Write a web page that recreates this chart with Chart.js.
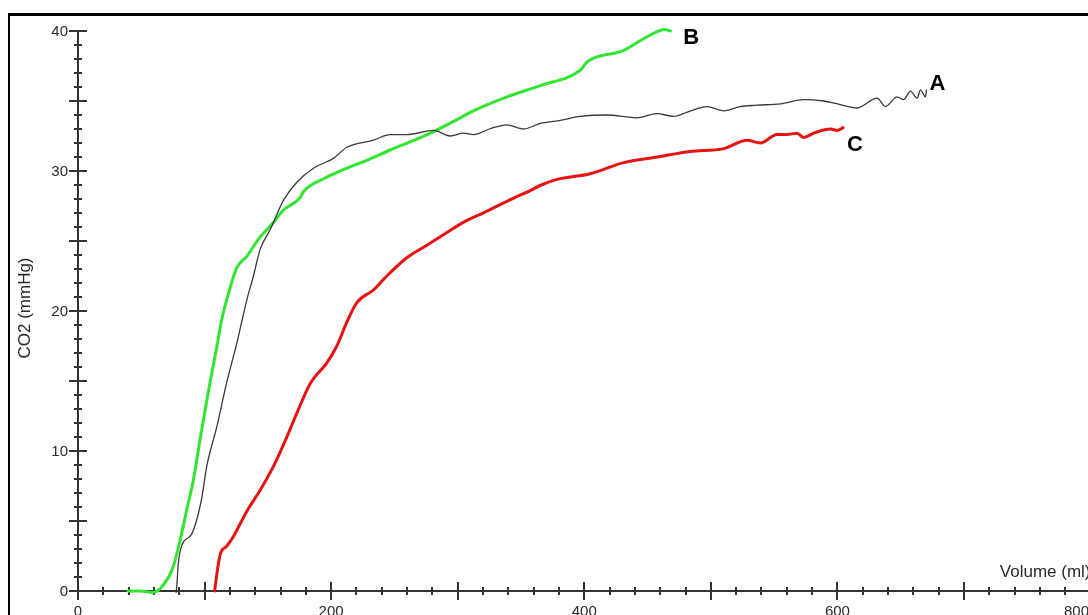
<!DOCTYPE html>
<html>
<head>
<meta charset="utf-8">
<script src="https://cdn.jsdelivr.net/npm/chart.js@4.4.1/dist/chart.umd.min.js"></script>
<style>
  html, body { margin: 0; padding: 0; background: #fff; overflow: hidden; }
  canvas { display: block; }
</style>
</head>
<body>
<canvas id="c" width="1088" height="615"></canvas>
<script>
// ---- data ----
const seriesNames = ['A', 'B', 'C'];

const volA = [77.5, 78, 79.3, 82.2, 90, 97.5, 101.7, 109.6, 117.5, 125.5, 133.4, 138.6, 143.9, 151.8, 162.3, 172.9, 186, 201.8, 212.4, 233.4, 246.6, 259.8, 280.9, 294.1, 304.6, 312.5, 325, 338.9, 352, 365.2, 380, 396.8, 417.9, 441.7, 457.5, 470.6, 484, 497, 510.1, 523, 536.5, 555, 573.4, 589.2, 600, 615.6, 631.4, 638, 647.2, 652.4, 657.7, 663, 665.6, 669.6, 670.4];
const co2A = [-0.1, 0.3, 2.0, 3.3, 4.1, 6.5, 8.9, 11.7, 14.9, 17.7, 20.8, 22.5, 24.4, 25.8, 27.9, 29.2, 30.2, 30.9, 31.7, 32.2, 32.6, 32.6, 32.9, 32.5, 32.7, 32.6, 33.0, 33.3, 33.0, 33.4, 33.6, 33.9, 34.0, 33.8, 34.1, 33.9, 34.3, 34.6, 34.3, 34.6, 34.7, 34.8, 35.1, 35.0, 34.8, 34.5, 35.2, 34.6, 35.3, 35.1, 35.7, 35.2, 35.8, 35.3, 35.8];

const volB = [39.5, 49, 59.3, 67.2, 75.1, 80.6, 85.9, 91.1, 96.4, 100.4, 104.3, 109.6, 113.6, 117.5, 125.5, 133.4, 142.3, 154.2, 162.1, 175.5, 177.9, 195.3, 215, 229.2, 246.6, 263, 280.6, 298, 312.3, 339.1, 365.2, 396.8, 402.4, 430.8, 449.8, 464, 468];
const co2B = [0, 0, -0.1, 0.4, 1.7, 3.6, 5.8, 7.9, 10.8, 12.9, 14.9, 17.4, 19.4, 20.8, 23.1, 23.9, 25.1, 26.3, 27.2, 28.1, 28.5, 29.5, 30.3, 30.8, 31.5, 32.1, 32.8, 33.6, 34.3, 35.3, 36.1, 37.2, 37.8, 38.6, 39.6, 40.1, 40.0];

const volC = [108, 109.1, 112.3, 117.5, 122.8, 133.4, 143.9, 154.4, 165, 172.9, 183.4, 196.6, 204.5, 212.4, 220.3, 233.4, 244, 259.8, 275.7, 286.2, 305.9, 317.8, 333.6, 345, 357.3, 366, 378.4, 404.7, 431.1, 457.5, 483.8, 510.1, 528.6, 539.1, 552.3, 560.2, 568.1, 573.4, 581.3, 594.5, 599.8, 604.5];
const co2C = [0, 0.8, 2.6, 3.2, 3.9, 5.7, 7.2, 8.9, 11.0, 12.7, 14.8, 16.3, 17.5, 19.2, 20.6, 21.5, 22.5, 23.8, 24.7, 25.3, 26.4, 26.9, 27.6, 28.1, 28.6, 29.0, 29.4, 29.8, 30.6, 31.0, 31.4, 31.6, 32.2, 32.0, 32.6, 32.6, 32.7, 32.4, 32.7, 33.0, 32.9, 33.1];

const xTickLabels = [0, 200, 400, 600, 800];
const yTickLabels = [0, 10, 20, 30, 40];
const xTitle = 'Volume (ml)';
const yTitle = 'CO2 (mmHg)';

// ---- styles ----
const colors = { A: '#3a3a3a', B: '#33e533', C: '#e81212' };
const widths = { A: 1.3, B: 3, C: 3 };
const labelOffset = { A: [3, 0], B: [13, 13], C: [4, 23] };
const AX = '#333333';
const TXT = '#2a2a2a';

function pts(xs, ys) { return xs.map((v, i) => ({ x: v, y: ys[i] })); }
const seriesData = { A: pts(volA, co2A), B: pts(volB, co2B), C: pts(volC, co2C) };

const axesPlugin = {
  id: 'axesPlugin',
  beforeDatasetsDraw(chart) {
    const { ctx, scales: { x, y } } = chart;
    const x0 = Math.round(x.getPixelForValue(0));
    const y0 = Math.round(y.getPixelForValue(0));
    const yTop = Math.round(y.getPixelForValue(40));
    ctx.save();
    ctx.strokeStyle = AX;
    ctx.lineWidth = 2;
    ctx.beginPath();
    ctx.moveTo(x0 - 9, y0); ctx.lineTo(chart.width, y0);
    ctx.moveTo(x0, yTop); ctx.lineTo(x0, y0);
    for (let v = 0; v <= 800; v += 20) {
      const px = Math.round(x.getPixelForValue(v));
      const len = v % 100 === 0 ? 9 : 4;
      ctx.moveTo(px, y0 - len); ctx.lineTo(px, y0 + len);
    }
    for (let v = 0; v <= 40; v += 1) {
      const py = Math.round(y.getPixelForValue(v));
      const len = v % 5 === 0 ? 9 : 4;
      ctx.moveTo(x0 - len, py); ctx.lineTo(x0 + len, py);
    }
    ctx.stroke();

    // tick labels
    ctx.fillStyle = TXT;
    ctx.font = '15px "Liberation Sans", Arial, sans-serif';
    ctx.textAlign = 'right';
    ctx.textBaseline = 'middle';
    yTickLabels.forEach(v => {
      ctx.fillText(String(v), x0 - 10, y.getPixelForValue(v) + 1);
    });
    ctx.textBaseline = 'top';
    xTickLabels.forEach(v => {
      const s = String(v);
      const w = ctx.measureText(s).width;
      let cx = x.getPixelForValue(v);
      if (cx + w / 2 > chart.width + 1) cx = chart.width + 1 - w / 2;
      ctx.textAlign = 'center';
      ctx.fillText(s, cx, y0 + 13);
    });

    // axis titles
    ctx.font = '17px "Liberation Sans", Arial, sans-serif';
    ctx.textAlign = 'right';
    ctx.textBaseline = 'alphabetic';
    ctx.fillText(xTitle, x.getPixelForValue(800), y0 - 14);
    ctx.save();
    ctx.translate(30, (yTop + y0) / 2 - 3);
    ctx.rotate(-Math.PI / 2);
    ctx.textAlign = 'center';
    ctx.fillText(yTitle, 0, 0);
    ctx.restore();
    ctx.restore();
  },
  afterDatasetsDraw(chart) {
    const { ctx, scales: { x, y } } = chart;
    ctx.save();
    // series end labels
    ctx.fillStyle = '#000';
    ctx.font = 'bold 22px "Liberation Sans", Arial, sans-serif';
    ctx.textAlign = 'left';
    ctx.textBaseline = 'alphabetic';
    seriesNames.forEach(n => {
      const d = seriesData[n];
      const last = d[d.length - 1];
      const px = x.getPixelForValue(last.x) + labelOffset[n][0];
      const py = y.getPixelForValue(last.y) + labelOffset[n][1];
      ctx.fillText(n, px, py);
    });
    // frame
    ctx.fillStyle = '#000';
    ctx.fillRect(8, 13, chart.width - 8, 3);
    ctx.fillRect(8, 13, 2, chart.height - 13);
    ctx.restore();
  }
};

new Chart(document.getElementById('c'), {
  type: 'scatter',
  data: {
    datasets: seriesNames.map(n => ({
      label: n,
      data: seriesData[n],
      showLine: true,
      borderColor: colors[n],
      backgroundColor: colors[n],
      borderWidth: widths[n],
      pointRadius: 0,
      cubicInterpolationMode: 'monotone',
      clip: false,
      borderJoinStyle: 'round',
      borderCapStyle: 'round'
    }))
  },
  options: {
    responsive: false,
    devicePixelRatio: 1,
    animation: false,
    layout: { padding: { left: 78, top: 31, right: 0, bottom: 24 } },
    plugins: { legend: { display: false }, tooltip: { enabled: false } },
    scales: {
      x: { type: 'linear', min: 0, max: 798, display: false },
      y: { type: 'linear', min: 0, max: 40, display: false }
    }
  },
  plugins: [axesPlugin]
});
</script>
</body>
</html>
